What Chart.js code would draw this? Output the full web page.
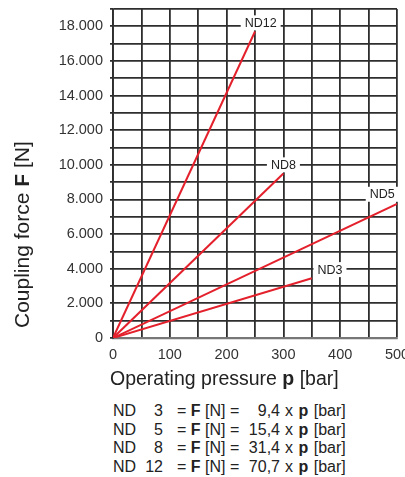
<!DOCTYPE html>
<html>
<head>
<meta charset="utf-8">
<script src="https://cdn.jsdelivr.net/npm/chart.js@4/dist/chart.umd.min.js"></script>
<style>
  html, body { margin: 0; padding: 0; background: #fff; overflow: hidden; }
  #wrap { position: absolute; left: 0; top: 0; width: 420px; height: 395px; }
  #formulas { position: absolute; left: 113px; top: 402px; font: 16px "Liberation Sans", Arial, sans-serif; color: #222; }
  .row { height: 18.7px; line-height: 18.7px; white-space: nowrap; display: flex; }
  .nd { width: 30px; }
  .num { width: 20px; text-align: right; }
  .eq { width: 64px; margin-left: 14px; }
  .fac { width: 39px; text-align: right; }
  .rest { margin-left: 5px; word-spacing: 1px; }
</style>
</head>
<body>
<div id="wrap"><canvas id="myChart"></canvas></div>
<div id="formulas"></div>
<script>
// sizes and read-off values
const ndSizes = [3, 5, 8, 12];
const factors = ["9,4", "15,4", "31,4", "70,7"];
const endPressure = [350, 500, 300, 250];
const endForce = [3450, 7750, 9500, 17700];

// tag labels on the lines
const tagNames = ["ND3", "ND5", "ND8", "ND12"];
const tagP = [382, 474, 300, 260];
const tagF = [3950, 8300, 10000, 18200];

const xTicks = [0, 100, 200, 300, 400, 500];
const yTicks = [0, 2000, 4000, 6000, 8000, 10000, 12000, 14000, 16000, 18000];

const tickFont = { family: "'Liberation Sans', Arial", size: 14.5 };
const red = "#e3202b";
const gridColor = "#2e2e2e";

const fmt = (v) => {
  if (v === 0) return "0";
  const s = String(v);
  return s.slice(0, s.length - 3) + "." + s.slice(s.length - 3);
};

const drawRuns = (ctx, runs, size) => {
  let x = 0;
  runs.forEach((r) => {
    ctx.font = (r.bold ? "bold " : "") + size + "px 'Liberation Sans', Arial";
    ctx.fillText(r.text, x, 0);
    x += ctx.measureText(r.text).width;
  });
};

const extras = {
  id: "extras",
  afterDatasetsDraw(chart) {
    const ctx = chart.ctx;
    const xs = chart.scales.x;
    const ys = chart.scales.y;
    ctx.save();
    ctx.font = "12.5px 'Liberation Sans', Arial";
    ctx.textAlign = "center";
    ctx.textBaseline = "middle";
    tagNames.forEach((t, i) => {
      const px = xs.getPixelForValue(tagP[i]);
      const py = ys.getPixelForValue(tagF[i]);
      const w = ctx.measureText(t).width + 8;
      ctx.fillStyle = "#fff";
      ctx.fillRect(px - w / 2, py - 7.5, w, 15);
      ctx.fillStyle = "#222";
      ctx.fillText(t, px, py + 0.5);
    });
    ctx.restore();
  },
  afterDraw(chart) {
    const ctx = chart.ctx;
    ctx.save();
    ctx.fillStyle = "#222";
    ctx.textBaseline = "alphabetic";
    ctx.textAlign = "left";
    // x title
    ctx.save();
    ctx.translate(110, 385);
    drawRuns(ctx, [{ text: "Operating pressure " }, { text: "p", bold: true }, { text: " [bar]" }], 19.5);
    ctx.restore();
    // y title
    ctx.save();
    ctx.translate(29, 328);
    ctx.rotate(-Math.PI / 2);
    drawRuns(ctx, [{ text: "Coupling force " }, { text: "F", bold: true }, { text: " [N]" }], 21);
    ctx.restore();
    ctx.restore();
  },
};

const datasets = ndSizes.map((nd, i) => ({
  label: "ND" + nd,
  data: [{ x: 0, y: 0 }, { x: endPressure[i], y: endForce[i] }],
  borderColor: red,
  borderWidth: 2,
  pointRadius: 0,
  fill: false,
}));

const ctx = document.getElementById("myChart").getContext("2d");
const myChart = new Chart(ctx, {
  type: "line",
  data: { datasets: datasets },
  options: {
    responsive: true,
    maintainAspectRatio: false,
    animation: false,
    layout: { padding: { top: 9, right: 23, left: 0, bottom: 0 } },
    plugins: { legend: { display: false }, tooltip: { enabled: false } },
    scales: {
      x: {
        type: "linear",
        min: 0,
        max: 500,
        afterFit: (s) => { s.height = 57; s.paddingLeft = 0; s.paddingRight = 0; },
        ticks: {
          stepSize: 50,
          padding: 8,
          color: "#333",
          font: tickFont,
          maxRotation: 0,
          autoSkip: false,
          callback: (v) => (xTicks.includes(v) ? String(v) : ""),
        },
        grid: { color: gridColor, lineWidth: 1.8, drawTicks: false },
        border: { color: "#777", width: 2.2 },
      },
      y: {
        min: 0,
        max: 19000,
        afterFit: (s) => { s.width = 113; s.paddingTop = 0; s.paddingBottom = 0; },
        ticks: {
          stepSize: 1000,
          padding: 7,
          color: "#333",
          font: tickFont,
          autoSkip: false,
          callback: (v) => (yTicks.includes(v) ? fmt(v) : ""),
        },
        grid: { color: gridColor, lineWidth: 1.8, drawTicks: true, tickLength: 3 },
        border: { color: gridColor, width: 1.8 },
      },
    },
  },
  plugins: [extras],
});

// formula lines below the chart
const box = document.getElementById("formulas");
ndSizes.forEach((nd, i) => {
  const row = document.createElement("div");
  row.className = "row";
  row.innerHTML = `
    <span class="nd">ND</span><span class="num">${nd}</span>
    <span class="eq">= <b>F</b> [N] =</span><span class="fac">${factors[i]}</span>
    <span class="rest">x <b>p</b> [bar]</span>`;
  box.appendChild(row);
});
</script>
</body>
</html>
